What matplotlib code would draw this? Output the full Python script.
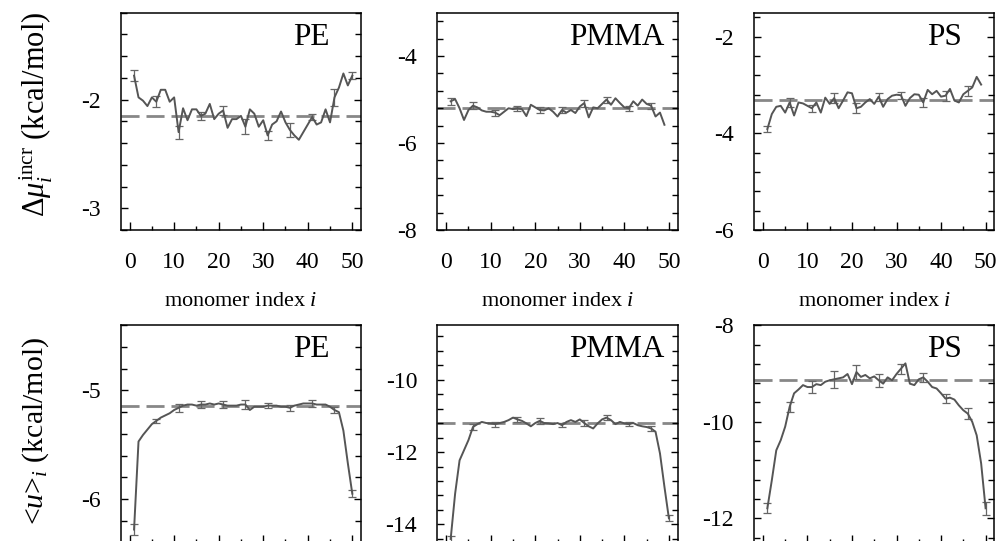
import numpy as np
import matplotlib
matplotlib.use("Agg")
import matplotlib.pyplot as plt
from matplotlib.ticker import MultipleLocator, FuncFormatter

plt.rcParams['font.family'] = ['Liberation Serif', 'DejaVu Serif']
plt.rcParams['mathtext.fontset'] = 'custom'
plt.rcParams['mathtext.rm'] = 'Liberation Serif'
plt.rcParams['mathtext.it'] = 'Liberation Serif:italic'
plt.rcParams['mathtext.bf'] = 'Liberation Serif:bold'

# ---------------- data ----------------
pe_mu = [-1.78, -1.98, -2.01, -2.06, -1.98, -2.02, -1.91, -1.91, -2.02, -1.98,
         -2.30, -2.08, -2.19, -2.09, -2.09, -2.15, -2.13, -2.04, -2.18, -2.13,
         -2.10, -2.26, -2.18, -2.18, -2.15, -2.25, -2.09, -2.13, -2.25, -2.19,
         -2.33, -2.23, -2.20, -2.11, -2.21, -2.28, -2.33, -2.37, -2.30, -2.23,
         -2.16, -2.23, -2.21, -2.09, -2.21, -1.98, -1.89, -1.76, -1.87, -1.78]
pe_mu_err = [0.05, 0.05, 0.06, 0.035, 0.04, 0.07, 0.045, 0.065, 0.03, 0.08, 0.03]
pe_mu_avg = -2.153

pmma_mu = [-5.04, -4.99, -5.20, -5.47, -5.24, -5.14, -5.18, -5.25, -5.28, -5.28,
           -5.30, -5.36, -5.28, -5.20, -5.22, -5.20, -5.22, -5.38, -5.12, -5.18,
           -5.24, -5.25, -5.20, -5.28, -5.39, -5.24, -5.30, -5.24, -5.31, -5.16,
           -5.08, -5.41, -5.18, -5.20, -5.10, -5.00, -5.12, -4.97, -5.08, -5.18,
           -5.20, -5.04, -5.14, -5.00, -5.10, -5.14, -5.39, -5.30, -5.58]
pmma_mu_err = [0.08, 0.08, 0.07, 0.06, 0.07, 0.06, 0.08, 0.07, 0.06, 0.07]
pmma_mu_avg = -5.20

ps_mu = [-3.91, -3.60, -3.45, -3.43, -3.57, -3.36, -3.63, -3.36, -3.38, -3.43,
         -3.48, -3.36, -3.57, -3.26, -3.39, -3.27, -3.48, -3.32, -3.15, -3.17,
         -3.48, -3.45, -3.36, -3.29, -3.39, -3.24, -3.45, -3.29, -3.22, -3.20,
         -3.21, -3.43, -3.27, -3.19, -3.20, -3.36, -3.10, -3.19, -3.12, -3.24,
         -3.22, -3.08, -3.32, -3.36, -3.19, -3.12, -3.05, -2.83, -2.99]
ps_mu_err = [0.07, 0.10, 0.07, 0.10, 0.10, 0.08, 0.07, 0.10, 0.10, 0.10]
ps_mu_avg = -3.30

pe_u = [-6.28, -5.47, -5.41, -5.36, -5.31, -5.28, -5.25, -5.23, -5.21, -5.18,
        -5.16, -5.14, -5.13, -5.13, -5.14, -5.13, -5.13, -5.12, -5.13, -5.12,
        -5.13, -5.14, -5.14, -5.14, -5.13, -5.13, -5.18, -5.15, -5.15, -5.15,
        -5.14, -5.14, -5.14, -5.15, -5.15, -5.16, -5.14, -5.13, -5.12, -5.12,
        -5.12, -5.13, -5.13, -5.13, -5.15, -5.18, -5.20, -5.37, -5.67, -5.95]
pe_u_err = [0.05, 0.02, 0.035, 0.035, 0.035, 0.04, 0.02, 0.03, 0.03, 0.03, 0.03]
pe_u_avg = -5.144

pmma_u = [-14.40, -13.15, -12.23, -11.95, -11.67, -11.31, -11.23, -11.17, -11.20, -11.21,
          -11.23, -11.20, -11.17, -11.12, -11.05, -11.10, -11.14, -11.21, -11.29, -11.20,
          -11.14, -11.20, -11.21, -11.23, -11.20, -11.26, -11.17, -11.12, -11.17, -11.10,
          -11.20, -11.29, -11.35, -11.21, -11.10, -11.05, -11.12, -11.23, -11.17, -11.21,
          -11.23, -11.20, -11.26, -11.29, -11.31, -11.35, -11.44, -12.04, -12.96, -13.83]
pmma_u_err = [0.08, 0.08, 0.07, 0.06, 0.08, 0.06, 0.07, 0.08, 0.06, 0.07, 0.08]
pmma_u_avg = -11.21

ps_u = [-11.79, -11.21, -10.59, -10.38, -10.10, -9.69, -9.41, -9.33, -9.24, -9.28,
        -9.28, -9.22, -9.24, -9.17, -9.14, -9.12, -9.10, -9.08, -9.01, -9.22,
        -8.97, -9.07, -9.03, -9.10, -9.06, -9.14, -9.21, -9.08, -9.14, -9.01,
        -8.90, -8.79, -9.21, -9.24, -9.12, -9.08, -9.17, -9.28, -9.31, -9.41,
        -9.52, -9.50, -9.54, -9.66, -9.76, -9.83, -10.00, -10.28, -10.86, -11.79]
ps_u_err = [0.10, 0.10, 0.12, 0.17, 0.14, 0.14, 0.10, 0.10, 0.10, 0.11, 0.13]
ps_u_avg = -9.14

names = ["PE", "PMMA", "PS"]
err_step = 5

top_series = [(pe_mu, pe_mu_err, pe_mu_avg), (pmma_mu, pmma_mu_err, pmma_mu_avg),
              (ps_mu, ps_mu_err, ps_mu_avg)]
bot_series = [(pe_u, pe_u_err, pe_u_avg), (pmma_u, pmma_u_err, pmma_u_avg),
              (ps_u, ps_u_err, ps_u_avg)]

top_ylims = [(-3.2, -1.2), (-8, -3), (-6, -1.5)]
top_major = [1, 2, 2]
bot_ylims = [(-6.4, -4.4), (-14.5, -8.5), (-12.5, -8)]
bot_major = [1, 2, 2]

label_x = [0.870, 0.943, 0.864]

# ---------------- figure ----------------
W, H = 1004, 541
fig = plt.figure(figsize=(W / 100, H / 100), dpi=100)

lefts = [120.7, 437.3, 754.0]
aw = 240.5
ah = 217.4
top_bottom_px = 230.0
bot_bottom_px = 542.6

line_col = '#555555'
dash_col = '#878787'
err_col = '#666666'


def draw(ax, vals, errs, avg, ylim, major, name, lx, ly, xlabels=True):
    vals = np.asarray(vals)
    n = len(vals)
    idx = np.arange(1, n + 1)
    ax.axhline(avg, color=dash_col, lw=2.0, ls=(0, (6.5, 2.5)), zorder=1)
    ax.plot(idx, vals, color=line_col, lw=1.4, zorder=3)
    eidx = list(range(0, n, err_step))
    if len(errs) > len(eidx):
        eidx.append(n - 1)
    eidx = eidx[:len(errs)]
    ax.errorbar(idx[eidx], vals[eidx], yerr=errs, fmt='none', ecolor=err_col,
                elinewidth=0.9, capsize=3.0, capthick=0.9, zorder=2)
    ax.set_xlim(-2, 52)
    ax.set_ylim(*ylim)
    ax.xaxis.set_major_locator(MultipleLocator(10))
    ax.xaxis.set_minor_locator(MultipleLocator(5))
    ax.yaxis.set_major_locator(MultipleLocator(major))
    ax.yaxis.set_minor_locator(MultipleLocator(major / 5))
    ax.tick_params(axis='both', which='both', direction='in', top=False,
                   right=True, width=1.0, colors='black')
    ax.tick_params(axis='x', which='major', length=5.5, pad=15.5, labelsize=17,
                   labelbottom=xlabels)
    ax.tick_params(axis='x', which='minor', length=3)
    ax.tick_params(axis='y', which='major', length=5, pad=14.5, labelsize=17)
    ax.tick_params(axis='y', which='minor', length=4.5)
    for s in ax.spines.values():
        s.set_linewidth(1.1)
    ax.yaxis.set_major_formatter(FuncFormatter(lambda v, p: f"{v:g}"))
    ax.text(lx, ly, name, transform=ax.transAxes, ha='right', va='baseline',
            fontsize=22.5)


for k in range(3):
    ax = fig.add_axes([lefts[k] / W, 1 - top_bottom_px / H, aw / W, ah / H])
    v, e, a = top_series[k]
    draw(ax, v, e, a, top_ylims[k], top_major[k], names[k], label_x[k], 0.851)
    ax.set_xlabel(r"monomer index $i$", fontsize=16, labelpad=14)

for k in range(3):
    ax = fig.add_axes([lefts[k] / W, 1 - bot_bottom_px / H, aw / W, ah / H])
    v, e, a = bot_series[k]
    draw(ax, v, e, a, bot_ylims[k], bot_major[k], names[k], label_x[k], 0.855,
         xlabels=False)

fig.text(36 / W, 1 - 114.5 / H, r"$\Delta\mu_i^{\mathrm{incr}}$ (kcal/mol)",
         rotation=90, ha='center', va='center', fontsize=22)
fig.text(36 / W, 1 - 431 / H, r"<$u$>$_i$ (kcal/mol)",
         rotation=90, ha='center', va='center', fontsize=21.5)

fig.savefig("out.png", dpi=100)
